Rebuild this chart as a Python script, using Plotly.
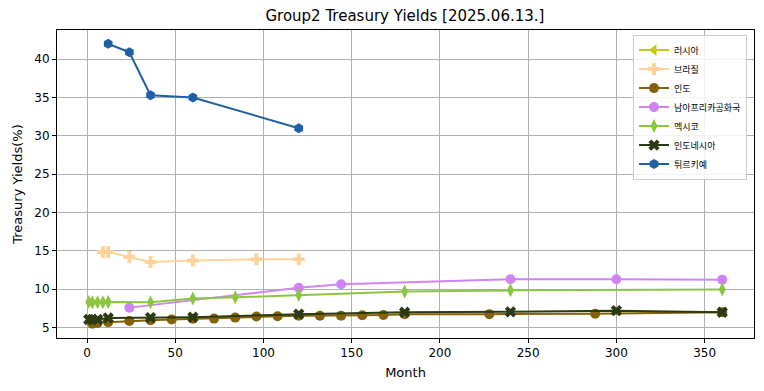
import plotly.graph_objects as go

# ---- data (months to maturity, yields %) ----
russia_m = [None]
russia_y = [None]

brazil_m = [9, 12, 24, 36, 60, 96, 120]
brazil_y = [14.85, 14.85, 14.2, 13.55, 13.75, 13.9, 13.9]

india_m = [3, 6, 12, 24, 36, 48, 60, 72, 84, 96, 108, 120, 132, 144, 156, 168, 180, 228, 288, 360]
india_y = [5.5, 5.6, 5.7, 5.85, 5.95, 6.05, 6.15, 6.17, 6.3, 6.45, 6.48, 6.55, 6.55, 6.55, 6.6, 6.65, 6.75, 6.75, 6.8, 7.0]

sa_m = [24, 120, 144, 240, 300, 360]
sa_y = [7.6, 10.2, 10.65, 11.3, 11.3, 11.25]

mexico_m = [1, 3, 6, 9, 12, 36, 60, 84, 120, 180, 240, 360]
mexico_y = [8.35, 8.3, 8.3, 8.3, 8.35, 8.3, 8.8, 8.95, 9.25, 9.7, 9.85, 9.95]

indonesia_m = [1, 3, 6, 12, 36, 60, 120, 180, 240, 300, 360]
indonesia_y = [6.05, 6.05, 6.05, 6.25, 6.3, 6.35, 6.75, 7.0, 7.05, 7.2, 7.0]

turkey_m = [12, 24, 36, 60, 120]
turkey_y = [42.0, 40.9, 35.3, 35.0, 31.0]

names = ["러시아", "브라질", "인도", "남아프리카공화국", "멕시코", "인도네시아", "튀르키예"]
xs = [russia_m, brazil_m, india_m, sa_m, mexico_m, indonesia_m, turkey_m]
ys = [russia_y, brazil_y, india_y, sa_y, mexico_y, indonesia_y, turkey_y]
colors = ["#c5c814", "#fdd39b", "#85620a", "#cf84f5", "#8cc641", "#2b3a10", "#1f5fa5"]
symbols = ["triangle-left", "cross", "circle", "circle", "diamond-tall", "x", "hexagon"]

fig = go.Figure()
for n, x, y, c, s in zip(names, xs, ys, colors, symbols):
    fig.add_trace(go.Scatter(
        x=x, y=y, name=n, mode="lines+markers",
        line=dict(color=c, width=2),
        marker=dict(color=c, symbol=s, size=10, line=dict(width=0)),
    ))

fig.update_layout(
    width=764, height=391,
    margin=dict(l=57, r=10, t=30, b=53, autoexpand=False),
    paper_bgcolor="white", plot_bgcolor="white",
    font=dict(family="DejaVu Sans, Noto Sans CJK KR", size=12, color="black"),
    title=dict(text="Group2 Treasury Yields [2025.06.13.]", x=0.53, xanchor="center",
               y=1 - 16 / 391, yanchor="middle", yref="container",
               font=dict(size=15, color="black")),
    showlegend=True,
    legend=dict(x=0.99, xanchor="right", y=0.985, yanchor="top",
                bgcolor="rgba(255,255,255,0.85)", bordercolor="#cccccc", borderwidth=1,
                font=dict(family="Noto Sans CJK KR, DejaVu Sans", size=9),
                tracegroupgap=0, itemwidth=30),
)
fig.update_xaxes(
    range=[-17, 378], tickmode="array", tickvals=[0, 50, 100, 150, 200, 250, 300, 350],
    showgrid=True, gridcolor="#b0b0b0", gridwidth=1, zeroline=False,
    showline=True, linecolor="black", linewidth=1, mirror=True,
    ticks="outside", ticklen=4, tickcolor="black",
    title=dict(text="Month", font=dict(size=13), standoff=8),
)
fig.update_yaxes(
    range=[3.64, 43.8], tickmode="array", tickvals=[5, 10, 15, 20, 25, 30, 35, 40],
    showgrid=True, gridcolor="#b0b0b0", gridwidth=1, zeroline=False,
    showline=True, linecolor="black", linewidth=1, mirror=True,
    ticks="outside", ticklen=4, tickcolor="black",
    title=dict(text="Treasury Yields(%)", font=dict(size=13), standoff=8),
)

fig.write_html("out.html", config={"displayModeBar": False},
               post_script="document.body.style.margin='0';")
